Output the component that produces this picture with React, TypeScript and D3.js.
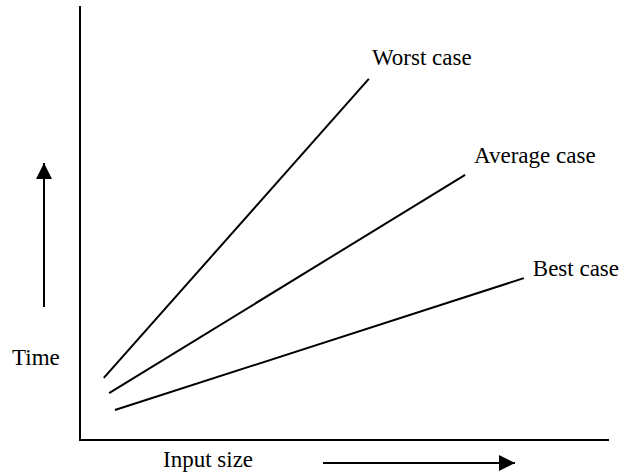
import * as d3 from 'd3';
import { useEffect, useRef } from 'react';

const WIDTH = 623;
const HEIGHT = 476;

// Series (input size, time) in abstract units 0..10
const SERIES = ['Worst case', 'Average case', 'Best case'];
const START_X = [0.45, 0.55, 0.66];
const START_Y = [1.43, 1.08, 0.69];
const END_X = [5.46, 7.28, 8.39];
const END_Y = [8.32, 6.11, 3.73];
const LABEL_X = [5.52, 7.45, 8.56];
const LABEL_Y = [8.64, 6.38, 3.78];

const X_LABEL = 'Input size';
const Y_LABEL = 'Time';

const FONT = '"Liberation Serif", "Times New Roman", serif';

const App: React.FC = () => {
    const svgRef = useRef<SVGSVGElement | null>(null);

    useEffect(() => {
        if (!svgRef.current) return;
        const svg = d3.select(svgRef.current);
        svg.selectAll('*').remove();

        const margin = { top: 6, right: 14, bottom: 36, left: 80 };
        const innerWidth = WIDTH - margin.left - margin.right;
        const innerHeight = HEIGHT - margin.top - margin.bottom;

        const xScale = d3.scaleLinear().domain([0, 10]).range([0, innerWidth]);
        const yScale = d3.scaleLinear().domain([0, 10]).range([innerHeight, 0]);

        const g = svg.append('g').attr('transform', `translate(${margin.left},${margin.top})`);

        // Axes (plain lines, no ticks)
        g.append('path')
            .attr('d', `M0,0V${innerHeight}H${innerWidth}`)
            .attr('fill', 'none')
            .attr('stroke', '#000')
            .attr('stroke-width', 2);

        const line = d3
            .line<[number, number]>()
            .x((d) => xScale(d[0]))
            .y((d) => yScale(d[1]));

        SERIES.forEach((name, i) => {
            g.append('path')
                .attr('d', line([
                    [START_X[i], START_Y[i]],
                    [END_X[i], END_Y[i]],
                ]))
                .attr('fill', 'none')
                .attr('stroke', '#000')
                .attr('stroke-width', 2);

            g.append('text')
                .attr('x', xScale(LABEL_X[i]))
                .attr('y', yScale(LABEL_Y[i]))
                .attr('font-family', FONT)
                .attr('font-size', 23)
                .attr('fill', '#000')
                .text(name);
        });

        // Arrow heads
        const defs = svg.append('defs');
        defs.append('marker')
            .attr('id', 'arrow')
            .attr('viewBox', '0 0 16 16')
            .attr('refX', 16)
            .attr('refY', 8)
            .attr('markerUnits', 'userSpaceOnUse')
            .attr('markerWidth', 16)
            .attr('markerHeight', 16)
            .attr('orient', 'auto')
            .append('path')
            .attr('d', 'M0,0L16,8L0,16Z')
            .attr('fill', '#000');

        // Y axis label and arrow
        svg.append('text')
            .attr('x', 12)
            .attr('y', 365)
            .attr('font-family', FONT)
            .attr('font-size', 23)
            .text(Y_LABEL);

        svg.append('line')
            .attr('x1', 44)
            .attr('y1', 307)
            .attr('x2', 44)
            .attr('y2', 163)
            .attr('stroke', '#000')
            .attr('stroke-width', 2)
            .attr('marker-end', 'url(#arrow)');

        // X axis label and arrow
        svg.append('text')
            .attr('x', 163)
            .attr('y', 467)
            .attr('font-family', FONT)
            .attr('font-size', 23)
            .text(X_LABEL);

        svg.append('line')
            .attr('x1', 323)
            .attr('y1', 463)
            .attr('x2', 515)
            .attr('y2', 463)
            .attr('stroke', '#000')
            .attr('stroke-width', 2)
            .attr('marker-end', 'url(#arrow)');
    }, []);

    return (
        <svg
            ref={svgRef}
            width={WIDTH}
            height={HEIGHT}
            style={{ position: 'absolute', left: 0, top: 0, background: '#fff', display: 'block' }}
        ></svg>
    );
};

export default App;
